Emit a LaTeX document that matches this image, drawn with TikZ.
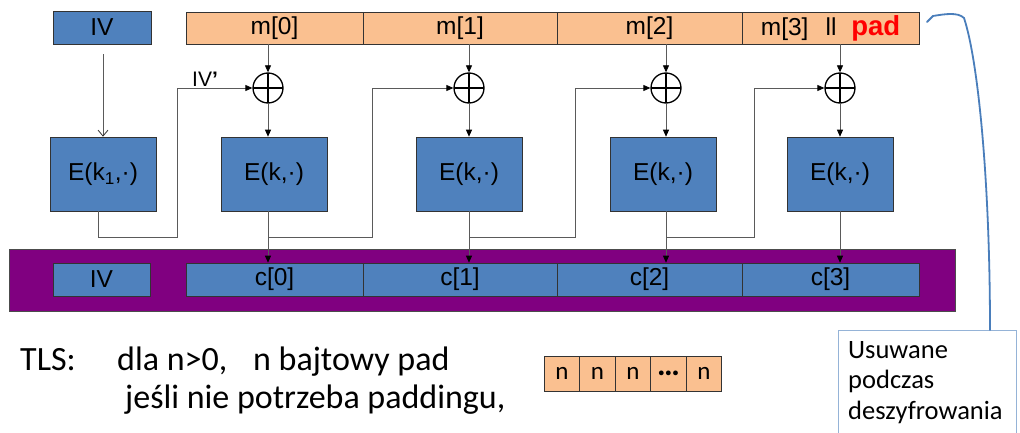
\documentclass[tikz,border=0pt]{standalone}
\usepackage{fontspec}
\setmainfont{Liberation Sans}
\newfontfamily\calfont{Carlito}
\usetikzlibrary{arrows.meta,calc}
\definecolor{blk}{HTML}{4F81BD}
\definecolor{msg}{HTML}{FAC090}
\definecolor{band}{HTML}{800080}
\definecolor{wirec}{HTML}{5A5A5A}
\definecolor{notec}{HTML}{95B3D7}
\definecolor{curvec}{HTML}{4A7EBB}
\begin{document}
\begin{tikzpicture}[x=1pt,y=-1pt,
  box/.style={draw=black!80, line width=0.6pt, inner sep=0pt, font=\fontsize{24.5}{28}\selectfont},
  bluebox/.style={box, fill=blk},
  msgbox/.style={box, fill=msg},
  padcell/.style={draw=black!80, line width=0.6pt, fill=msg, inner sep=0pt,
    minimum width=35.5pt, minimum height=35pt, font=\calfont\fontsize{25}{30}\selectfont},
  xorop/.style={circle, draw, line width=1.3pt, minimum size=30pt, inner sep=0pt,
    path picture={\draw[line width=1.3pt]
      (path picture bounding box.north) -- (path picture bounding box.south)
      (path picture bounding box.west) -- (path picture bounding box.east);}},
  wire/.style={draw=wirec, line width=0.8pt},
  arr/.style={wire, -{Triangle[length=7pt,width=6pt,color=black]}},
  bigtext/.style={anchor=base west, inner sep=0pt, font=\calfont\fontsize{34}{40}\selectfont},
]
\clip (0,0) rectangle (1020,433);

% top row: IV and the padded message
\node[bluebox, minimum width=98pt, minimum height=33pt] (ivtop) at (102,27.5) {IV};
\node[msgbox, minimum width=177pt, minimum height=32pt] (m0) at (274.5,28) {m[0]};
\node[msgbox, minimum width=194pt, minimum height=32pt] (m1) at (460,28) {m[1]};
\node[msgbox, minimum width=185pt, minimum height=32pt] (m2) at (649.5,28) {m[2]};
\node[msgbox, minimum width=177pt, minimum height=32pt] (m3) at (830.5,28)
  {m[3]\hspace{0.7em}ll\hspace{0.6em}{\color{red}\bfseries\fontsize{27.5}{30}\selectfont pad}};

% xor gates
\node[xorop] (x1) at (268,88) {};
\node[xorop] (x2) at (469,88) {};
\node[xorop] (x3) at (666,88) {};
\node[xorop] (x4) at (840,88) {};
\node[inner sep=0pt, font=\fontsize{21}{24}\selectfont] (ivp) at (205,79) {IV\textbf{’}};

% block cipher boxes
\node[bluebox, minimum width=106pt, minimum height=74pt] (E1) at (103,174) {E(k\textsubscript{1},·)};
\node[bluebox, minimum width=106pt, minimum height=74pt] (E2) at (274,174) {E(k,·)};
\node[bluebox, minimum width=106pt, minimum height=74pt] (E3) at (469,174) {E(k,·)};
\node[bluebox, minimum width=106pt, minimum height=74pt] (E4) at (663,174) {E(k,·)};
\node[bluebox, minimum width=106pt, minimum height=74pt] (E5) at (840,174) {E(k,·)};

% ciphertext band
\filldraw[fill=band, draw=black!70, line width=0.6pt] (9,249) rectangle (955,311);
\node[bluebox, minimum width=97pt, minimum height=33pt] (ivbot) at (101.5,279.5) {IV};
\node[bluebox, minimum width=177pt, minimum height=33pt] (c0) at (274.5,279.5) {c[0]};
\node[bluebox, minimum width=194pt, minimum height=33pt] (c1) at (460,279.5) {c[1]};
\node[bluebox, minimum width=185pt, minimum height=33pt] (c2) at (649.5,279.5) {c[2]};
\node[bluebox, minimum width=177pt, minimum height=33pt] (c3) at (830.5,279.5) {c[3]};

% chaining corners
\coordinate (b1) at (177,237);
\coordinate (b2) at (372,237);
\coordinate (b3) at (575,237);
\coordinate (b4) at (754,237);

% IV into the first cipher
\draw[wire, shorten <=10pt, -{Straight Barb[length=6pt,width=10pt,color=black!80]}]
  (E1.north |- ivtop.south) -- (E1.north);

% message blocks into the xors, xors into the ciphers
\draw[arr] (x1 |- m0.south) -- (x1.north);
\draw[arr] (x2 |- m1.south) -- (x2.north);
\draw[arr] (x3 |- m2.south) -- (x3.north);
\draw[arr] (x4 |- m3.south) -- (x4.north);
\draw[arr] (x1.south) -- (x1 |- E2.north);
\draw[arr] (x2.south) -- (x2 |- E3.north);
\draw[arr] (x3.south) -- (x3 |- E4.north);
\draw[arr] (x4.south) -- (x4 |- E5.north);

% cipher outputs and chaining
\draw[arr] ([xshift=-5pt]E1.south) |- (b1) |- (x1.west);
\draw[arr] (x1 |- E2.south) -- (x1 |- c0.north);
\draw[arr] (x2 |- E3.south) -- (x2 |- c1.north);
\draw[arr] (x3 |- E4.south) -- (x3 |- c2.north);
\draw[arr] (x4 |- E5.south) -- (x4 |- c3.north);
\draw[arr] (x1 |- b2) -- (b2) |- (x2.west);
\draw[arr] (x2 |- b3) -- (b3) |- (x3.west);
\draw[arr] (x3 |- b4) -- (b4) |- (x4.west);

% TLS padding description
\node[bigtext] (tls) at (20,370) {TLS:};
\node[bigtext] (l1a) at (117,370) {dla n>0,};
\node[bigtext] (l1b) at (253,370) {n bajtowy pad};
\node[bigtext] (l2) at (125,408) {jeśli nie potrzeba paddingu,};

\node[padcell] (p1) at (562,373.5) {n};
\node[padcell] (p2) at (597.5,373.5) {n};
\node[padcell] (p3) at (633,373.5) {n};
\node[padcell, font=\calfont\bfseries\fontsize{32}{32}\selectfont] (p4) at (668.5,373.5) {…};
\node[padcell] (p5) at (704,373.5) {n};

% note about padding removal
\node[draw=notec, line width=1pt, minimum width=178pt, minimum height=115pt,
  anchor=north west, inner sep=0pt] (note) at (838,330) {};
\node[anchor=north west, align=left, inner sep=0pt,
  font=\calfont\fontsize{26.5}{30.5}\selectfont] (notetext) at (848,341)
  {Usuwane\\podczas\\deszyfrowania};
\draw[curvec, line width=1.8pt, line cap=round]
  (note.north -| 990,0) .. controls (990,180) and (978,60) .. (964,18)
  .. controls (958,12) and (945,14) .. (933,16) -- (927,22);
\end{tikzpicture}
\end{document}
